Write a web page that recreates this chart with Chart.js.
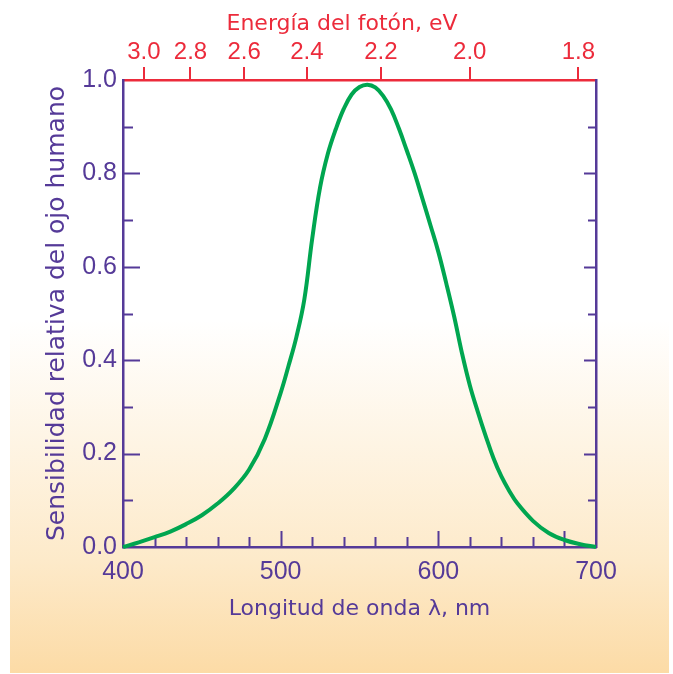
<!DOCTYPE html>
<html>
<head>
<meta charset="utf-8">
<script src="https://cdn.jsdelivr.net/npm/chart.js@4"></script>
<style>
  html, body { margin: 0; padding: 0; background: #ffffff; }
  #wrap { position: relative; width: 673px; height: 674px; overflow: hidden; }
  #bg { position: absolute; left: 10px; top: 0; width: 659px; height: 673px;
        background: linear-gradient(to bottom, #ffffff 0px, #ffffff 320px, #FDEACA 560px, #FCDBA6 673px); }
  #c { position: absolute; left: 0; top: 0; }
</style>
</head>
<body>
<div id="wrap">
  <div id="bg"></div>
  <canvas id="c" width="673" height="674"></canvas>
</div>
<script>
// ---- data ----
const wavelengths = [400, 410, 420, 430, 440, 450, 460, 470, 480, 490,
                     500, 505, 510, 515, 520, 525, 530, 535, 540, 545,
                     550, 555, 560, 565, 570, 575, 580, 585, 590, 595,
                     600, 605, 610, 615, 620, 625, 630, 635, 640, 645,
                     650, 660, 670, 680, 690, 700];
const sensitivity = [0.000, 0.010, 0.021, 0.033, 0.049, 0.068, 0.093, 0.124, 0.166, 0.232,
                     0.330, 0.388, 0.450, 0.530, 0.660, 0.770, 0.843, 0.895, 0.938, 0.969,
                     0.985, 0.990, 0.984, 0.966, 0.937, 0.896, 0.849, 0.800, 0.745, 0.689,
                     0.632, 0.565, 0.494, 0.415, 0.346, 0.290, 0.238, 0.190, 0.151, 0.120,
                     0.094, 0.056, 0.030, 0.015, 0.006, 0.000];
const energyTicks = [3.0, 2.8, 2.6, 2.4, 2.2, 2.0, 1.8];   // eV
const wavelengthTicks = [400, 500, 600, 700];
const sensitivityTicks = [0.0, 0.2, 0.4, 0.6, 0.8, 1.0];
const xTickMarks = [420, 440, 460, 480, 500, 520, 540, 560, 580, 600, 620, 640, 660, 680];
const xLongTickMarks = [500, 600, 680];
const yTickMarks = [0.1, 0.2, 0.3, 0.4, 0.5, 0.6, 0.7, 0.8, 0.9];
const yLongTickMarks = [0.2, 0.4, 0.6, 0.8];
const HC = 1239.84; // eV·nm

const PURPLE = '#553A98';
const RED = '#EC2B3B';
const GREEN = '#00A650';
const NUM_FONT = 'Liberation Sans, Arial, sans-serif';
const TXT_FONT = 'DejaVu Sans, sans-serif';

const inwardTicks = {
  id: 'inwardTicks',
  beforeDatasetsDraw(chart) {
    const { ctx, chartArea: a, scales } = chart;
    ctx.save();
    ctx.strokeStyle = PURPLE;
    ctx.lineWidth = 2;
    ctx.beginPath();
    xTickMarks.forEach(v => {
      const px = Math.round(scales.x.getPixelForValue(v)) + 0.5;
      const len = xLongTickMarks.includes(v) ? 16 : 10;
      ctx.moveTo(px, a.bottom);
      ctx.lineTo(px, a.bottom - len);
    });
    yTickMarks.forEach(v => {
      const py = Math.round(scales.y.getPixelForValue(v)) + 0.5;
      const major = yLongTickMarks.includes(v);
      ctx.moveTo(a.left, py);
      ctx.lineTo(a.left + (major ? 17 : 10), py);
      const py2 = Math.round(scales.y2.getPixelForValue(v)) + 0.5;
      ctx.moveTo(a.right, py2);
      ctx.lineTo(a.right - (major ? 12 : 8), py2);
    });
    ctx.stroke();
    ctx.restore();
  }
};

new Chart(document.getElementById('c'), {
  type: 'line',
  data: {
    datasets: [{
      data: wavelengths.map((w, i) => ({ x: w, y: sensitivity[i] })),
      borderColor: GREEN,
      borderWidth: 4,
      pointRadius: 0,
      fill: false,
      tension: 0.4,
      clip: false,
      xAxisID: 'x',
      yAxisID: 'y'
    }]
  },
  options: {
    responsive: false,
    animation: false,
    devicePixelRatio: 1,
    layout: { padding: { left: 11, right: 0, top: 0, bottom: 0 } },
    plugins: {
      legend: { display: false },
      tooltip: { enabled: false },
      title: {
        display: true,
        text: 'Energía del fotón, eV',
        color: RED,
        font: { family: TXT_FONT, size: 22, weight: 'normal', lineHeight: 1.2 },
        padding: { top: 11, bottom: 0 }
      }
    },
    scales: {
      x: {
        type: 'linear', position: 'bottom', min: 400, max: 700,
        afterBuildTicks: s => { s.ticks = wavelengthTicks.map(v => ({ value: v })); },
        afterFit: s => { s.height = 127; },
        grid: { display: false, drawTicks: false },
        border: { display: true, color: PURPLE, width: 2.5 },
        ticks: { color: PURPLE, padding: 10, maxRotation: 0,
                 font: { family: NUM_FONT, size: 25 }, callback: v => String(v) },
        title: { display: true, text: 'Longitud de onda λ, nm', color: PURPLE,
                 font: { family: TXT_FONT, size: 22, lineHeight: 1.2 },
                 padding: { top: 0, bottom: 52 } }
      },
      x2: {
        type: 'linear', position: 'top', min: 400, max: 700,
        afterBuildTicks: s => { s.ticks = energyTicks.map(e => ({ value: HC / e })); },
        afterFit: s => { s.height = 42.6; },
        grid: { display: true, drawOnChartArea: false, drawTicks: true, tickLength: 13,
                color: RED, lineWidth: 2 },
        border: { display: true, color: RED, width: 2.5 },
        ticks: { color: RED, padding: 0, maxRotation: 0, autoSkip: false,
                 font: { family: NUM_FONT, size: 24 },
                 callback: (v, i) => energyTicks[i].toFixed(1) }
      },
      y: {
        type: 'linear', position: 'left', min: 0, max: 1,
        afterBuildTicks: s => { s.ticks = sensitivityTicks.map(v => ({ value: v })); },
        afterFit: s => { s.width = 112; },
        grid: { display: false, drawTicks: false },
        border: { display: true, color: PURPLE, width: 2.5 },
        ticks: { color: PURPLE, padding: 6, font: { family: NUM_FONT, size: 25 },
                 callback: v => Number(v).toFixed(1) },
        title: { display: true, text: 'Sensibilidad relativa del ojo humano', color: PURPLE,
                 font: { family: TXT_FONT, size: 25, lineHeight: 1.2 },
                 padding: { top: 31, bottom: 0 } }
      },
      y2: {
        type: 'linear', position: 'right', min: 0, max: 1,
        afterFit: s => { s.width = 77; },
        grid: { display: false, drawTicks: false },
        border: { display: true, color: PURPLE, width: 2.5 },
        ticks: { display: false }
      }
    }
  },
  plugins: [inwardTicks]
});
</script>
</body>
</html>
